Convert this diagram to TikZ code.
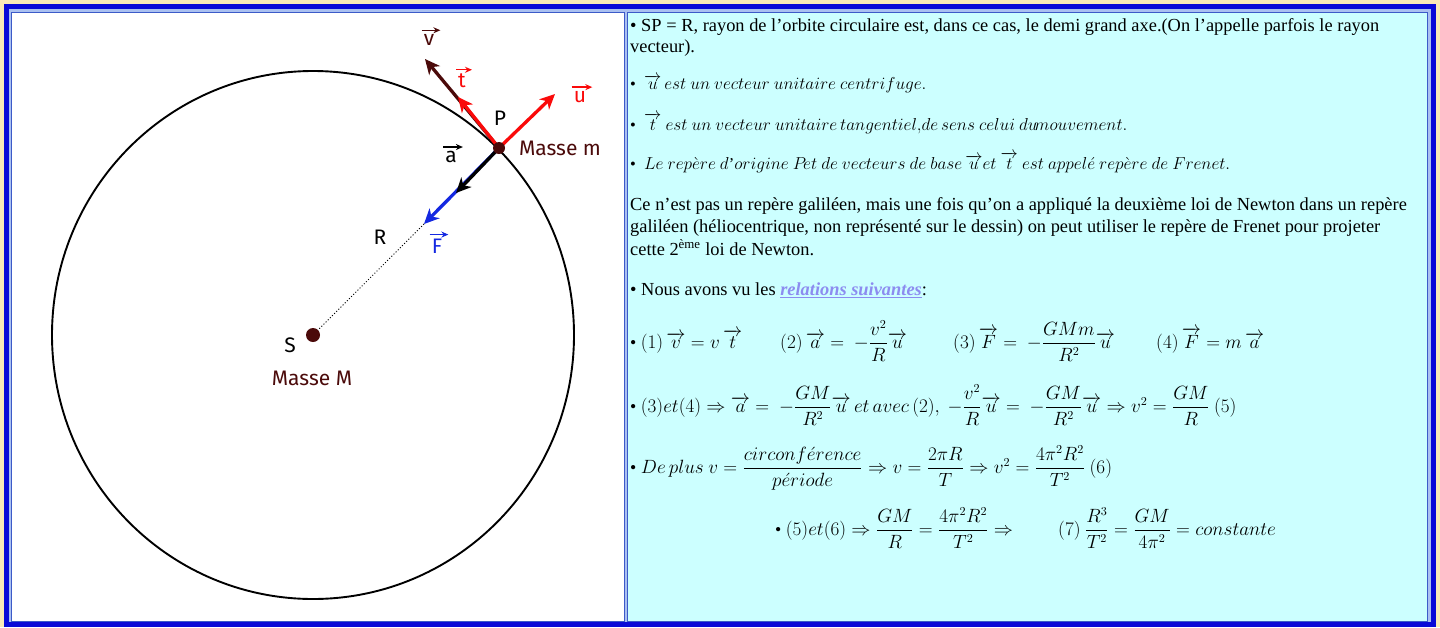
\documentclass[tikz,border=0pt]{standalone}
\usepackage{amsmath}
\usepackage{fontspec}
\setmainfont{Liberation Serif}
\newfontfamily\labfont{Fira Sans}
\usetikzlibrary{arrows.meta}
\definecolor{parch}{RGB}{250,234,184}
\definecolor{outerblue}{RGB}{10,10,215}
\definecolor{innerblue}{RGB}{170,192,240}
\definecolor{cellline}{RGB}{60,90,200}
\definecolor{cyancell}{RGB}{204,255,255}
\definecolor{maroon}{RGB}{75,10,10}
\definecolor{vred}{RGB}{250,10,10}
\definecolor{vblue}{RGB}{20,40,225}
\definecolor{linkcol}{RGB}{140,140,240}
\newcommand\veclab[4]{%
  \node[lab,text=#4] (#1) at (#2) {#3};
  \draw[smallarrow,#4] ([xshift=-2pt,yshift=4pt]#1.north west) -- ([xshift=6pt,yshift=4pt]#1.north east);
}
\begin{document}
\begin{tikzpicture}[x=1pt,y=-1pt,
  lab/.style={font=\labfont\fontsize{21}{21}\selectfont, inner sep=0pt},
  txt/.style={anchor=base west, inner sep=0pt, font=\fontsize{18.4}{22}\selectfont},
  itl/.style={anchor=base west, inner sep=0pt, font=\fontsize{16.5}{20}\selectfont},
  mth/.style={anchor=base west, inner sep=0pt, font=\fontsize{16}{20}\selectfont, scale=1.11, transform shape},
  bigarrow/.style={line width=3.3pt, -{Stealth[length=15pt,width=14pt,inset=4.5pt]}},
  smallarrow/.style={line width=1.3pt, -{Stealth[length=7pt,width=6pt]}},
  dot/.style={circle, fill=maroon, inner sep=0pt, minimum size=#1},
]
\useasboundingbox (0,0) rectangle (1440,627);
% frame
\fill[parch] (0,0) rectangle (1440,627);
\fill[innerblue] (6.5,6.5) rectangle (1433.5,624.5);
\draw[outerblue, line width=4.5pt] (6.5,6.5) rectangle (1433.5,624.5);
\draw[cellline, line width=1pt, fill=white] (11,12) rectangle (624,621);
\draw[cellline, line width=1pt, fill=cyancell] (627,12) rectangle (1427,621);

% ---------- left diagram ----------
\coordinate (S) at (313,335);
\coordinate (P) at (499,148);
\draw[line width=1.9pt] (S) ellipse [x radius=261, y radius=264];
\coordinate (vtip) at (425,59);
\coordinate (ttip) at (458,97);
\coordinate (utip) at (555,94);
\coordinate (atip) at (456,193);
\coordinate (Ftip) at (424,224);
\draw[dotted, line width=1pt] (S) -- (Ftip);
\draw[bigarrow, maroon] (P) -- (vtip);
\draw[bigarrow, vred] (P) -- (ttip);
\draw[bigarrow, vred] (P) -- (utip);
\draw[bigarrow, vblue] (P) -- (Ftip);
\draw[bigarrow, black] (P) -- (atip);
\node[dot=12pt] (Pdot) at (P) {};
\node[dot=14pt] (Sdot) at (S) {};

\veclab{vl}{429,40}{v}{maroon}
\veclab{tl}{462,81}{t}{vred}
\veclab{ul}{580,97}{u}{vred}
\veclab{al}{451,157}{a}{black}
\veclab{Fl}{437,246}{F}{vblue}
\node[lab] (Pl) at (500,118) {P};
\node[lab, text=maroon] (Mm) at (560,148) {Masse m};
\node[lab] (Rl) at (380,237) {R};
\node[lab] (Sl) at (290,345) {S};
\node[lab, text=maroon] (MM) at (312,378) {Masse M};

% ---------- right text ----------
\node[txt] (l1) at (630,31) {\textbullet\ SP = R, rayon de l'orbite circulaire est, dans ce cas, le demi grand axe.(On l'appelle parfois le rayon};
\node[txt] (l2) at (630,52) {vecteur).};
\node[itl] (l3) at (630,89) {\textbullet\ \ $\overrightarrow{u}\,est\ un\ vecteur\ unitaire\ centrifuge.$};
\node[itl] (l4) at (630,130) {\textbullet\ \ $\overrightarrow{t}\ est\ un\ vecteur\ unitaire\,tangentiel,\!de\,sens\ celui\ du\!mouvement.$};
\node[itl] (l5) at (630,169) {\textbullet\ \ $Le\ rep\grave{e}re\ d\text{'}origine\ P\!et\ de\ vecteurs\ de\ base\,\overrightarrow{u}et\ \overrightarrow{t}\ est\ appel\acute{e}\ rep\grave{e}re\ de\ Frenet.$};
\node[txt] (l6) at (630,210) {Ce n'est pas un repère galiléen, mais une fois qu'on a appliqué la deuxième loi de Newton dans un repère};
\node[txt] (l7) at (630,232) {galiléen (héliocentrique, non représenté sur le dessin) on peut utiliser le repère de Frenet pour projeter};
\node[txt] (l8) at (630,255) {cette 2\textsuperscript{ème} loi de Newton.};
\node[txt] (l9) at (630,295) {\textbullet\ Nous avons vu les \textcolor{linkcol}{\underline{\textbf{\textit{relations suivantes}}}}:};

% formulas
\node[mth] (f1a) at (630,348) {\textbullet\ $(1)\,\overrightarrow{v}=v\,\overrightarrow{t}$};
\node[mth] (f1b) at (780,348) {$(2)\,\overrightarrow{a}=\ -\dfrac{v^2}{R}\overrightarrow{u}$};
\node[mth] (f1c) at (953,348) {$(3)\,\overrightarrow{F}=\ -\dfrac{GMm}{R^2}\overrightarrow{u}$};
\node[mth] (f1d) at (1156,348) {$(4)\,\overrightarrow{F}=m\,\overrightarrow{a}$};
\node[mth] (f2) at (630,412) {\textbullet\ $(3)et(4)\Rightarrow\overrightarrow{a}=\ -\dfrac{GM}{R^2}\overrightarrow{u}\,et\,avec\,(2),\ -\dfrac{v^2}{R}\overrightarrow{u}=\ -\dfrac{GM}{R^2}\overrightarrow{u}\Rightarrow v^2=\dfrac{GM}{R}\ (5)$};
\node[mth] (f3) at (630,473) {\textbullet\ $De\,plus\ v=\dfrac{circonf\acute{e}rence}{p\acute{e}riode}\Rightarrow v=\dfrac{2\pi R}{T}\Rightarrow v^2=\dfrac{4\pi^2R^2}{T^2}\ (6)$};
\node[mth] (f4a) at (775,535) {\textbullet\ $(5)et(6)\Rightarrow\dfrac{GM}{R}=\dfrac{4\pi^2R^2}{T^2}\Rightarrow$};
\node[mth] (f4b) at (1058,535) {$(7)\ \dfrac{R^3}{T^2}=\dfrac{GM}{4\pi^2}=constante$};
\end{tikzpicture}
\end{document}
